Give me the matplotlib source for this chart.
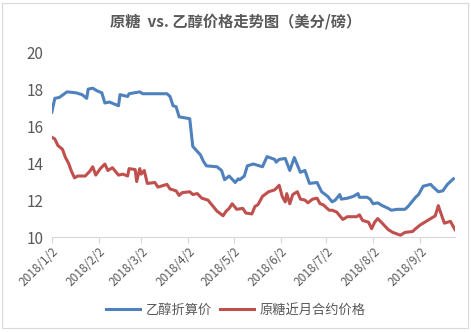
import matplotlib
matplotlib.use("Agg")
import matplotlib.pyplot as plt
import pandas as pd
from matplotlib.patches import Rectangle

plt.rcParams['font.family'] = ['Noto Sans CJK SC', 'DejaVu Sans']

# 乙醇折算价
eth_dates = ["2018-01-02", "2018-01-04", "2018-01-07", "2018-01-12", "2018-01-18",
             "2018-01-22", "2018-01-25", "2018-01-26", "2018-01-29", "2018-02-01",
             "2018-02-04", "2018-02-06", "2018-02-09", "2018-02-15", "2018-02-16",
             "2018-02-21", "2018-02-22", "2018-03-01", "2018-03-03", "2018-03-19",
             "2018-03-21", "2018-03-23", "2018-03-25", "2018-03-27", "2018-04-03",
             "2018-04-05", "2018-04-10", "2018-04-12", "2018-04-14", "2018-04-21",
             "2018-04-24", "2018-04-26", "2018-04-29", "2018-05-03", "2018-05-05",
             "2018-05-06", "2018-05-09", "2018-05-11", "2018-05-15", "2018-05-17",
             "2018-05-21", "2018-05-24", "2018-05-29", "2018-05-30", "2018-06-01",
             "2018-06-05", "2018-06-08", "2018-06-11", "2018-06-15", "2018-06-18",
             "2018-06-21", "2018-06-26", "2018-06-29", "2018-07-03", "2018-07-06",
             "2018-07-08", "2018-07-11", "2018-07-12", "2018-07-16", "2018-07-20",
             "2018-07-23", "2018-07-24", "2018-07-29", "2018-07-31", "2018-08-02",
             "2018-08-05", "2018-08-08", "2018-08-12", "2018-08-14", "2018-08-18",
             "2018-08-23", "2018-08-25", "2018-08-30", "2018-09-01", "2018-09-04",
             "2018-09-09", "2018-09-10", "2018-09-14", "2018-09-17", "2018-09-20",
             "2018-09-24"]
eth_vals = [16.75, 17.5, 17.55, 17.85, 17.8,
            17.7, 17.5, 18.0, 18.05, 17.9,
            17.8, 17.25, 17.3, 17.1, 17.7,
            17.6, 17.75, 17.85, 17.75, 17.75,
            17.6, 17.1, 17.05, 16.5, 16.4,
            14.9, 14.45, 14.1, 13.85, 13.8,
            13.6, 13.1, 13.3, 12.95, 13.15,
            13.1, 13.3, 13.85, 13.95, 13.9,
            13.8, 14.35, 14.2, 14.05, 14.2,
            14.25, 13.6, 14.3, 13.5, 13.6,
            12.9, 12.95, 12.45, 12.2, 11.9,
            12.0, 12.3, 12.05, 12.1, 12.2,
            12.35, 12.15, 12.15, 12.05, 11.8,
            11.85, 11.7, 11.55, 11.45, 11.5,
            11.5, 11.65, 12.15, 12.3, 12.75,
            12.85, 12.75, 12.45, 12.5, 12.85,
            13.15]

# 原糖近月合约价格
sugar_dates = ["2018-01-02", "2018-01-04", "2018-01-06", "2018-01-09", "2018-01-11",
               "2018-01-13", "2018-01-15", "2018-01-17", "2018-01-19", "2018-01-24",
               "2018-01-27", "2018-01-29", "2018-01-31", "2018-02-03", "2018-02-06",
               "2018-02-08", "2018-02-11", "2018-02-15", "2018-02-18", "2018-02-21",
               "2018-02-22", "2018-02-26", "2018-02-27", "2018-03-01", "2018-03-02",
               "2018-03-04", "2018-03-06", "2018-03-11", "2018-03-13", "2018-03-17",
               "2018-03-19", "2018-03-21", "2018-03-25", "2018-03-27", "2018-03-29",
               "2018-04-03", "2018-04-05", "2018-04-08", "2018-04-11", "2018-04-15",
               "2018-04-18", "2018-04-21", "2018-04-25", "2018-04-27", "2018-04-29",
               "2018-05-01", "2018-05-04", "2018-05-08", "2018-05-10", "2018-05-14",
               "2018-05-16", "2018-05-18", "2018-05-21", "2018-05-25", "2018-05-29",
               "2018-06-01", "2018-06-03", "2018-06-05", "2018-06-06", "2018-06-08",
               "2018-06-10", "2018-06-13", "2018-06-15", "2018-06-18", "2018-06-20",
               "2018-06-23", "2018-06-26", "2018-06-28", "2018-06-30", "2018-07-04",
               "2018-07-06", "2018-07-09", "2018-07-13", "2018-07-16", "2018-07-22",
               "2018-07-24", "2018-07-26", "2018-07-30", "2018-08-01", "2018-08-03",
               "2018-08-05", "2018-08-08", "2018-08-12", "2018-08-15", "2018-08-20",
               "2018-08-23", "2018-08-28", "2018-08-30", "2018-09-02", "2018-09-07",
               "2018-09-12", "2018-09-14", "2018-09-15", "2018-09-18", "2018-09-22",
               "2018-09-25"]
sugar_vals = [15.4, 15.3, 14.95, 14.75, 14.3,
              14.0, 13.55, 13.2, 13.3, 13.3,
              13.55, 13.8, 13.35, 13.7, 13.95,
              13.6, 13.75, 13.35, 13.4, 13.3,
              13.7, 13.65, 13.0, 13.7, 13.4,
              13.6, 12.9, 12.95, 12.7, 12.8,
              12.85, 12.6, 12.5, 12.25, 12.4,
              12.45, 12.3, 12.35, 12.1, 12.0,
              11.7, 11.4, 11.15, 11.4, 11.55,
              11.8, 11.5, 11.55, 11.3, 11.25,
              11.65, 11.75, 12.2, 12.45, 12.55,
              12.8, 12.2, 11.9, 12.35, 11.8,
              12.3, 12.45, 12.05, 12.0, 11.85,
              12.05, 12.1, 11.8, 11.75, 11.45,
              11.45, 11.35, 10.95, 11.1, 11.1,
              11.2, 10.9, 10.8, 10.45, 10.8,
              11.0, 10.75, 10.4, 10.25, 10.1,
              10.25, 10.3, 10.45, 10.65, 10.9,
              11.15, 11.7, 11.45, 10.75, 10.85,
              10.4]

tick_dates = ["2018-01-02", "2018-02-02", "2018-03-02", "2018-04-02", "2018-05-02",
              "2018-06-02", "2018-07-02", "2018-08-02", "2018-09-02"]
tick_labels = ["2018/1/2", "2018/2/2", "2018/3/2", "2018/4/2", "2018/5/2",
               "2018/6/2", "2018/7/2", "2018/8/2", "2018/9/2"]

fig = plt.figure(figsize=(4.71, 3.32), dpi=100)
fig.patches.append(Rectangle((0.004, 0.012), 0.99, 0.978, transform=fig.transFigure,
                             fill=False, edgecolor="#D9D9D9", linewidth=0.8))
ax = fig.add_axes([0.110, 0.286, 0.856, 0.557])

ax.plot(pd.to_datetime(eth_dates), eth_vals, color="#4F81BD", lw=2.2, label="乙醇折算价")
ax.plot(pd.to_datetime(sugar_dates), sugar_vals, color="#C0504D", lw=2.2, label="原糖近月合约价格")

ax.set_ylim(10, 20)
ax.set_yticks([10, 12, 14, 16, 18, 20])
ax.set_xlim(pd.Timestamp("2018-01-02"), pd.Timestamp("2018-09-25"))
ax.set_xticks(pd.to_datetime(tick_dates))
ax.set_xticklabels(tick_labels, rotation=45, ha="right", rotation_mode="anchor",
                   fontsize=8.5, color="#595959")
ax.tick_params(axis="y", length=0, labelsize=11, labelcolor="#595959", pad=6)
ax.tick_params(axis="x", length=4, color="#D9D9D9", width=0.8, pad=2)

for s in ["top", "right", "left"]:
    ax.spines[s].set_visible(False)
ax.spines["bottom"].set_color("#D9D9D9")
ax.spines["bottom"].set_linewidth(0.8)

fig.text(0.5, 0.935, "原糖  vs. 乙醇价格走势图（美分/磅）", ha="center", va="center",
         fontsize=11, fontweight="bold", color="#595959")

fig.legend(loc="center", bbox_to_anchor=(0.5, 0.065), ncol=2, frameon=False,
           fontsize=9.5, handlelength=2.6, columnspacing=0.6, handletextpad=0.4,
           labelcolor="#595959")

fig.savefig("out.png", dpi=100)
